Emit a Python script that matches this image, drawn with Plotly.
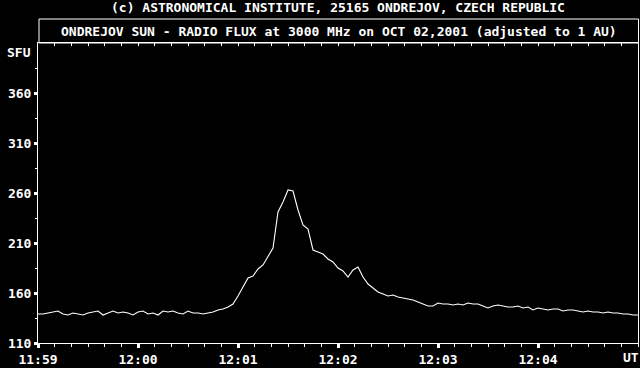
import plotly.graph_objects as go

# seconds after 11:59:00 UT, sampled every 3 s
time_s = list(range(0, 361, 3))
flux_sfu = [
    139, 139, 140, 141, 142, 139, 138, 140, 139, 138,
    140, 141, 142, 138, 140, 142, 140, 141, 140, 138,
    141, 142, 139, 140, 138, 142, 141, 142, 140, 139,
    142, 140, 140, 139, 140, 141, 143, 144, 146, 149,
    157, 166, 175, 177, 184, 188, 197, 205, 241, 251,
    263, 262, 243, 228, 224, 203, 201, 199, 194, 191,
    185, 182, 176, 183, 186, 176, 169, 165, 161, 159,
    157, 158, 156, 155, 154, 153, 151, 149, 147, 147,
    150, 149, 149, 148, 149, 148, 150, 149, 149, 147,
    145, 147, 148, 147, 146, 146, 147, 145, 146, 143,
    145, 144, 143, 144, 144, 142, 143, 143, 142, 141,
    142, 141, 141, 140, 141, 140, 140, 139, 139, 138,
    138,
]

x_tick_seconds = [0, 60, 120, 180, 240, 300, 360]
x_tick_labels = ["11:59", "12:00", "12:01", "12:02", "12:03", "12:04", ""]
x_minor_seconds = list(range(0, 361, 10))
y_tick_values = [110, 160, 210, 260, 310, 360]
y_minor_values = [135, 185, 235, 285, 335, 385]

title_main = "(c) ASTRONOMICAL INSTITUTE, 25165 ONDREJOV, CZECH REPUBLIC"
title_sub = "ONDREJOV SUN - RADIO FLUX at 3000 MHz on OCT 02,2001 (adjusted to 1 AU)"

FONT = dict(family="DejaVu Sans Mono", size=13, color="white", weight="bold")

fig = go.Figure()
fig.add_trace(go.Scatter(x=time_s, y=flux_sfu, mode="lines",
                         line=dict(color="white", width=1.1),
                         hoverinfo="skip", showlegend=False))
fig.add_trace(go.Scatter(x=[0, 360], y=[110, 110], xaxis="x2", mode="markers",
                         marker=dict(size=1, opacity=0), hoverinfo="skip",
                         showlegend=False))

W, H = 640, 368
L, R, T, B = 38, 2, 43, 25
pw, ph = W - L - R, H - T - B


def px(x):
    return (x - L) / pw


def py(y):
    return (H - B - y) / ph


fig.update_layout(
    width=W, height=H,
    margin=dict(l=L, r=R, t=T, b=B, pad=0),
    paper_bgcolor="black", plot_bgcolor="black",
    font=FONT,
    showlegend=False,
    xaxis=dict(range=[0, 360], showline=True, linecolor="white", linewidth=1,
               showgrid=False, zeroline=False,
               ticks="outside", tickvals=x_tick_seconds, ticktext=x_tick_labels,
               ticklen=4, tickwidth=3, tickcolor="white", tickfont=FONT,
               minor=dict(tickmode="array", tickvals=x_minor_seconds, ticks="outside",
                          ticklen=3, tickwidth=1, tickcolor="white", showgrid=False)),
    xaxis2=dict(range=[0, 360], overlaying="x", side="top", showline=True,
                linecolor="white", linewidth=1, showgrid=False, zeroline=False,
                ticks="inside", tickvals=x_minor_seconds, ticklen=3, tickwidth=1,
                tickcolor="white", showticklabels=False),
    yaxis=dict(range=[110, 410], showline=True, mirror=True, linecolor="white",
               linewidth=1, showgrid=False, zeroline=False,
               ticks="outside", tickvals=y_tick_values, ticklen=3, tickwidth=3,
               tickcolor="white", tickfont=FONT,
               minor=dict(tickmode="array", tickvals=y_minor_values, ticks="outside",
                          ticklen=2, tickwidth=1, tickcolor="white", showgrid=False)),
    shapes=[dict(type="rect", xref="paper", yref="paper", x0=px(39), x1=px(638.5),
                 y0=1, y1=py(19), line=dict(color="white", width=1))],
    annotations=[
        dict(text=title_main, xref="paper", yref="paper", x=px(338), y=py(8),
             xanchor="center", yanchor="middle", showarrow=False, font=FONT),
        dict(text=title_sub, xref="paper", yref="paper", x=px(338.5), y=py(31.5),
             xanchor="center", yanchor="middle", showarrow=False, font=FONT),
        dict(text="SFU", xref="paper", yref="paper", x=px(33), y=py(52),
             xanchor="right", yanchor="middle", showarrow=False, font=FONT),
        dict(text="UT", xref="paper", yref="paper", x=px(631), y=py(357),
             xanchor="center", yanchor="middle", showarrow=False, font=FONT),
    ],
)

fig.write_html("out.html")
